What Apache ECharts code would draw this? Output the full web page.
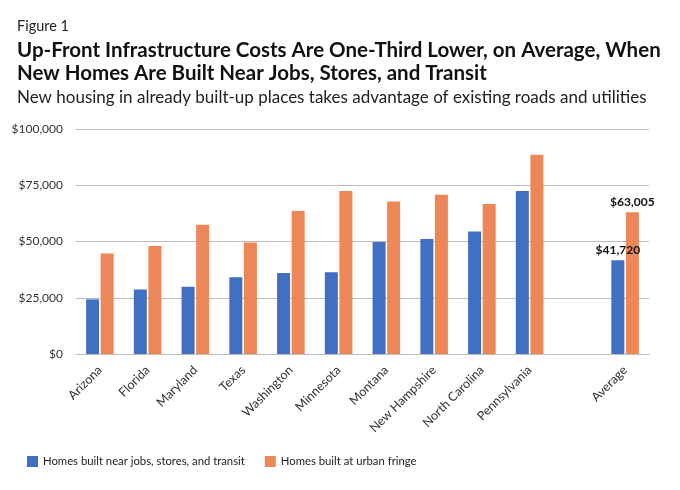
<!DOCTYPE html>
<html>
<head>
<meta charset="utf-8">
<script src="https://cdn.jsdelivr.net/npm/echarts@6/dist/echarts.min.js"></script>
<style>
html,body{margin:0;padding:0;background:#fff;}
#chart{width:680px;height:490px;}
</style>
</head>
<body>
<div id="chart"></div>
<script>
var categories = ['Arizona','Florida','Maryland','Texas','Washington','Minnesota','Montana','New Hampshire','North Carolina','Pennsylvania','','Average'];
var nearJobs = [24300, 28700, 29900, 34100, 36000, 36300, 49800, 51100, 54400, 72400, null, 41720];
var urbanFringe = [44700, 48000, 57500, 49600, 63600, 72400, 67800, 70800, 66700, 88600, null, 63005];
var yTicks = [0, 25000, 50000, 75000, 100000];
var labelIndex = 11;

var FONT = 'Lato, "Noto Sans", sans-serif';
function money(v){ return '$' + v.toLocaleString('en-US'); }

var chart = echarts.init(document.getElementById('chart'), null, {renderer:'canvas'});
var valueLabel = {show:true, position:'top', distance:4, formatter:function(p){return money(p.value);}, fontFamily:FONT, fontSize:12, fontWeight:'bold', color:'#111'};
chart.setOption({
  backgroundColor:'#fff',
  animation:false,
  textStyle:{fontFamily:FONT},
  title:[
    {text:'Figure 1', left:12, top:13, textStyle:{fontFamily:FONT, fontSize:14.5, fontWeight:'normal', color:'#222', lineHeight:16}},
    {text:'Up-Front Infrastructure Costs Are One-Third Lower, on Average, When\nNew Homes Are Built Near Jobs, Stores, and Transit', left:12, top:34,
      textStyle:{fontFamily:FONT, fontSize:20.5, fontWeight:'bold', color:'#111', lineHeight:23}},
    {text:'New housing in already built-up places takes advantage of existing roads and utilities', left:12, top:83,
      textStyle:{fontFamily:FONT, fontSize:17, fontWeight:'normal', color:'#222', lineHeight:20}}
  ],
  legend:{
    left:22, top:451, itemWidth:11, itemHeight:11, itemGap:20,
    icon:'rect',
    textStyle:{fontFamily:FONT, fontSize:11.3, color:'#222'},
    data:['Homes built near jobs, stores, and transit','Homes built at urban fringe']
  },
  grid:{left:76, right:31, top:129, bottom:136, containLabel:false},
  xAxis:{
    type:'category', data:categories,
    axisLine:{show:true, lineStyle:{color:'#bdbdbd'}},
    axisTick:{show:false},
    axisLabel:{rotate:45, interval:0, fontFamily:FONT, fontSize:12.5, color:'#333', margin:14}
  },
  yAxis:{
    type:'value', min:yTicks[0], max:yTicks[yTicks.length-1], interval:25000,
    axisLine:{show:false}, axisTick:{show:false},
    splitLine:{lineStyle:{color:'#bdbdbd', width:1}},
    axisLabel:{fontFamily:FONT, fontSize:12, color:'#333', margin:13, formatter:money}
  },
  series:[
    {name:'Homes built near jobs, stores, and transit', type:'bar', barWidth:13, barGap:'12%',
      itemStyle:{color:'#4070C2'},
      data:nearJobs.map(function(v,i){ return i===labelIndex ? {value:v, label:valueLabel} : v; })},
    {name:'Homes built at urban fringe', type:'bar', barWidth:13, barGap:'12%',
      itemStyle:{color:'#EE8757'},
      data:urbanFringe.map(function(v,i){ return i===labelIndex ? {value:v, label:valueLabel} : v; })}
  ]
});
</script>
</body>
</html>
